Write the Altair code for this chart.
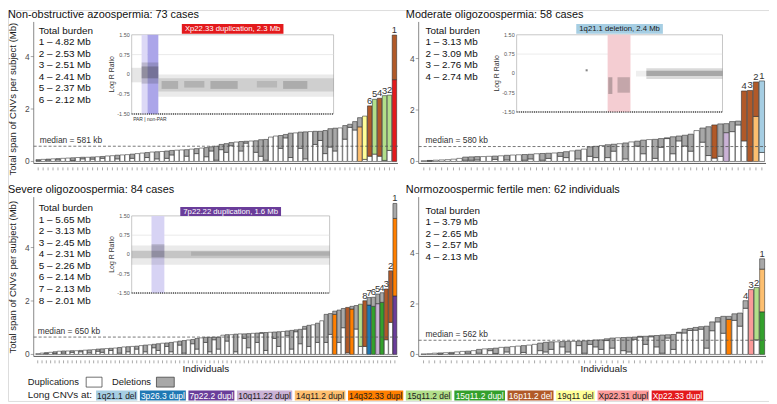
import altair as alt
import pandas as pd

FONT = "Liberation Sans"
W, H = 769, 395

# ---------------- categories / colours ----------------
CNV_TYPES = ["1q21.1 del", "3p26.3 dupl", "7p22.2 dupl", "10q11.22 dupl", "14q11.2 dupl",
             "14q32.33 dupl", "15q11.2 del", "15q11.2 dupl", "16p11.2 del", "19q11 del",
             "Xp22.31 dupl", "Xp22.33 dupl"]
CNV_COLORS = ["#a6cee3", "#1f78b4", "#6a3d9a", "#cab2d6", "#fdbf6f", "#ff7f00",
              "#b2df8a", "#33a02c", "#b15928", "#ffff99", "#fb9a99", "#e31a1c"]
CNV_LIGHT_TEXT = ["3p26.3 dupl", "7p22.2 dupl", "15q11.2 dupl", "16p11.2 del", "Xp22.33 dupl"]
DUP_FILL = "#ffffff"
DEL_FILL = "#a8a8a8"

# ---------------- Non-obstructive azoospermia (73) ----------------
noa_total = [0.07, 0.08, 0.09, 0.10, 0.11, 0.12, 0.13, 0.14, 0.15, 0.16,
             0.16, 0.17, 0.18, 0.19, 0.21, 0.22, 0.24, 0.25, 0.26, 0.28,
             0.30, 0.32, 0.34, 0.36, 0.37, 0.38, 0.40, 0.42, 0.43, 0.44,
             0.45, 0.47, 0.49, 0.51, 0.53, 0.56, 0.58, 0.65, 0.68, 0.72,
             0.74, 0.76, 0.77, 0.78, 0.79, 0.83, 0.84, 0.93, 0.97, 0.99,
             1.03, 1.08, 1.09, 1.12, 1.13, 1.14, 1.15, 1.15, 1.18, 1.25,
             1.27, 1.28, 1.37, 1.42, 1.52, 1.67, 1.73, 2.12, 2.37, 2.41,
             2.51, 2.53, 4.82]
noa_dup = [0.03, 0.08, 0.05, 0.10, 0.06, 0.12, 0.13, 0.04, 0.15, 0.10,
           0.16, 0.09, 0.18, 0.12, 0.21, 0.22, 0.10, 0.25, 0.26, 0.12,
           0.30, 0.32, 0.15, 0.36, 0.10, 0.38, 0.12, 0.25, 0.43, 0.44,
           0.20, 0.47, 0.30, 0.51, 0.18, 0.40, 0.05, 0.45, 0.35, 0.60,
           0.74, 0.40, 0.70, 0.78, 0.35, 0.20, 0.05, 0.93, 0.97, 0.50,
           0.90, 0.15, 1.09, 0.50, 0.10, 1.14, 0.65, 0.80, 0.30, 0.55,
           0.40, 1.28, 0.85, 1.30, 1.20, 0.00, 0.08, 0.20, 0.28, 0.20,
           0.04, 0.42, 0.00]
noa_cnv_bar = [66, 67, 68, 69, 70, 71, 72, 73, 73]
noa_cnv_type = ["14q11.2 dupl", "19q11 del", "16p11.2 del", "15q11.2 del", "16p11.2 del",
                "15q11.2 del", "15q11.2 del", "Xp22.33 dupl", "16p11.2 del"]
noa_cnv_mb = [1.32, 1.65, 1.92, 2.09, 2.21, 2.47, 2.11, 3.12, 1.70]
noa_burden = ["4.82", "2.53", "2.51", "2.41", "2.37", "2.12"]

# ---------------- Moderate oligozoospermia (58) ----------------
mo_total = [0.03, 0.04, 0.05, 0.06, 0.07, 0.09, 0.12, 0.17, 0.18, 0.19,
            0.19, 0.20, 0.21, 0.22, 0.24, 0.25, 0.26, 0.27, 0.28, 0.30,
            0.31, 0.32, 0.33, 0.35, 0.38, 0.41, 0.44, 0.48, 0.57, 0.59,
            0.62, 0.65, 0.67, 0.69, 0.72, 0.76, 0.79, 0.83, 0.85, 0.86,
            0.89, 0.92, 0.96, 0.99, 1.02, 1.06, 1.20, 1.30, 1.35, 1.42,
            1.46, 1.47, 1.55, 1.57, 2.74, 2.76, 3.09, 3.13]
mo_dup = [0.03, 0.02, 0.05, 0.06, 0.07, 0.09, 0.12, 0.05, 0.05, 0.06,
          0.19, 0.20, 0.08, 0.22, 0.06, 0.25, 0.26, 0.05, 0.10, 0.30,
          0.05, 0.12, 0.33, 0.20, 0.15, 0.41, 0.10, 0.48, 0.20, 0.15,
          0.62, 0.15, 0.40, 0.69, 0.10, 0.76, 0.60, 0.30, 0.85, 0.12,
          0.55, 0.89, 0.30, 0.80, 0.60, 0.40, 1.20, 0.75, 0.23, 0.13,
          0.20, 0.00, 1.16, 1.42, 0.80, 0.00, 0.00, 0.35]
mo_cnv_bar = [50, 52, 55, 56, 57, 57, 58]
mo_cnv_type = ["16p11.2 del", "10q11.22 dupl", "16p11.2 del", "16p11.2 del",
               "14q11.2 dupl", "16p11.2 del", "1q21.1 del"]
mo_cnv_mb = [1.29, 1.12, 1.94, 2.76, 1.75, 1.34, 2.78]
mo_burden = ["3.13", "3.09", "2.76", "2.74"]

# ---------------- Severe oligozoospermia (84) ----------------
so_total = [0.03, 0.05, 0.07, 0.08, 0.10, 0.12, 0.13, 0.13, 0.14, 0.14,
            0.15, 0.16, 0.17, 0.18, 0.20, 0.21, 0.22, 0.23, 0.24, 0.26,
            0.28, 0.29, 0.30, 0.31, 0.33, 0.35, 0.36, 0.38, 0.40, 0.42,
            0.43, 0.45, 0.47, 0.50, 0.52, 0.54, 0.56, 0.60, 0.62, 0.64,
            0.64, 0.65, 0.65, 0.72, 0.74, 0.74, 0.76, 0.77, 0.77, 0.78,
            0.79, 0.80, 0.81, 0.82, 0.83, 0.84, 0.85, 0.86, 0.88, 0.90,
            0.92, 0.94, 1.05, 1.09, 1.11, 1.17, 1.26, 1.50, 1.53, 1.62,
            1.66, 1.72, 1.76, 1.80, 1.83, 1.88, 2.01, 2.13, 2.14, 2.26,
            2.31, 2.45, 3.13, 5.65]
so_dup = [0.03, 0.05, 0.03, 0.08, 0.04, 0.12, 0.05, 0.13, 0.08, 0.14,
          0.10, 0.16, 0.06, 0.18, 0.12, 0.08, 0.22, 0.15, 0.24, 0.05,
          0.28, 0.10, 0.30, 0.20, 0.33, 0.10, 0.36, 0.25, 0.15, 0.42,
          0.30, 0.10, 0.47, 0.35, 0.05, 0.54, 0.40, 0.20, 0.62, 0.45,
          0.10, 0.55, 0.20, 0.72, 0.50, 0.74, 0.10, 0.77, 0.60, 0.25,
          0.79, 0.45, 0.80, 0.15, 0.83, 0.60, 0.30, 0.86, 0.70, 0.20,
          0.85, 0.40, 0.95, 0.30, 1.11, 0.45, 1.26, 0.45, 0.75, 0.00,
          0.45, 1.00, 0.06, 0.00, 0.95, 0.30, 0.30, 0.00, 0.00, 0.00,
          0.00, 0.55, 1.20, 0.00]
so_cnv_bar = [70, 73, 74, 76, 77, 78, 79, 80, 81, 82, 83, 84, 84]
so_cnv_type = ["14q32.33 dupl", "16p11.2 del", "14q32.33 dupl", "15q11.2 del", "16p11.2 del",
               "3p26.3 dupl", "15q11.2 dupl", "10q11.22 dupl", "15q11.2 dupl", "16p11.2 del",
               "16p11.2 del", "7p22.2 dupl", "14q32.33 dupl"]
so_cnv_mb = [1.50, 1.70, 1.70, 1.58, 1.71, 1.85, 1.80, 1.90, 1.95, 1.90, 1.93, 2.19, 2.90]
so_burden = ["5.65", "3.13", "2.45", "2.31", "2.26", "2.14", "2.13", "2.01"]

# ---------------- Normozoospermic fertile men (62) ----------------
nf_total = [0.02, 0.03, 0.05, 0.06, 0.07, 0.08, 0.10, 0.12, 0.13, 0.15,
            0.20, 0.22, 0.23, 0.25, 0.28, 0.29, 0.31, 0.33, 0.35, 0.37,
            0.40, 0.45, 0.48, 0.50, 0.50, 0.51, 0.52, 0.52, 0.53, 0.54,
            0.55, 0.575, 0.58, 0.62, 0.65, 0.66, 0.67, 0.68, 0.69, 0.72,
            0.72, 0.74, 0.75, 0.77, 0.78, 0.79, 0.88, 1.00, 1.03, 1.07,
            1.10, 1.12, 1.29, 1.46, 1.51, 1.51, 1.61, 1.64, 2.13, 2.57,
            2.65, 3.79]
nf_dup = [0.02, 0.03, 0.05, 0.02, 0.07, 0.03, 0.10, 0.12, 0.05, 0.15,
          0.05, 0.22, 0.15, 0.04, 0.28, 0.10, 0.31, 0.33, 0.08, 0.37,
          0.40, 0.15, 0.10, 0.20, 0.50, 0.30, 0.10, 0.52, 0.35, 0.05,
          0.40, 0.30, 0.20, 0.55, 0.25, 0.66, 0.15, 0.10, 0.60, 0.69,
          0.40, 0.70, 0.30, 0.05, 0.65, 0.20, 0.85, 0.85, 0.95, 0.96,
          1.00, 0.25, 0.94, 1.29, 0.84, 0.00, 1.35, 1.12, 1.83, 0.00,
          0.58, 0.00]
nf_cnv_bar = [56, 60, 61, 62, 62]
nf_cnv_type = ["14q32.33 dupl", "Xp22.31 dupl", "15q11.2 del", "15q11.2 dupl", "14q11.2 dupl"]
nf_cnv_mb = [1.39, 2.57, 2.07, 1.69, 1.69]
nf_burden = ["3.79", "2.65", "2.57", "2.13"]

# ---------------- inset (Log R Ratio) summaries ----------------
LRR_TICKS = [1.5, 0.75, 0.0, -0.75, -1.5]
LRR_LABELS = ["1.50", "0.75", "0", "-0.75", "-1.50"]

noa_band_x0 = [4.9, 7.8]
noa_band_x1 = [7.8, 13.2]
noa_band_col = ["#dcd8f6", "#aba5e9"]
noa_cloud_x0 = [0.0, 4.9, 4.9, 13.2, 13.2, 14.8, 26.0, 39.0, 62.0, 75.0]
noa_cloud_x1 = [4.9, 13.2, 13.2, 100.0, 100.0, 23.0, 36.0, 52.5, 72.0, 87.0]
noa_cloud_lo = [-0.30, -0.35, -0.15, -0.85, -0.65, -0.55, -0.50, -0.55, -0.50, -0.55]
noa_cloud_hi = [0.25, 0.45, 0.30, 0.00, -0.15, -0.25, -0.25, -0.25, -0.25, -0.25]
noa_cloud_op = [0.12, 0.20, 0.30, 0.10, 0.15, 0.20, 0.18, 0.22, 0.15, 0.22]

mo_band_x0 = [44.2]
mo_band_x1 = [55.3]
mo_band_col = ["#f4cdd2"]
mo_cloud_x0 = [33.5, 44.5, 49.0, 58.0, 63.0, 63.0]
mo_cloud_x1 = [34.5, 46.5, 55.0, 63.0, 100.0, 100.0]
mo_cloud_lo = [0.08, -0.80, -0.75, -0.12, -0.22, -0.10]
mo_cloud_hi = [0.16, -0.15, -0.15, 0.10, 0.20, 0.10]
mo_cloud_op = [0.60, 0.30, 0.25, 0.08, 0.18, 0.30]

so_band_x0 = [10.0]
so_band_x1 = [16.5]
so_band_col = ["#d7d3f4"]
so_cloud_x0 = [0.0, 0.0, 10.0, 30.0]
so_cloud_x1 = [100.0, 100.0, 16.5, 100.0]
so_cloud_lo = [-0.40, -0.15, -0.10, -0.05]
so_cloud_hi = [0.35, 0.15, 0.40, 0.12]
so_cloud_op = [0.10, 0.20, 0.20, 0.15]

# ---------------- helpers ----------------
ONE = pd.DataFrame({"k": [0]})
AW = {".": 278, " ": 278, ",": 278, "d": 556, "e": 556, "l": 222, "u": 556, "p": 556,
      "q": 556, "X": 667, "i": 222, "c": 500, "a": 556, "t": 278, "o": 556, "n": 556,
      "M": 833, "b": 556}


def tw(s, size):
    return sum(AW.get(ch, 556) for ch in s) / 1000.0 * size


def vtext(txt, x, y, size, color="#1a1a1a", align="left", angle=None, baseline="middle"):
    kw = dict(text=txt, fontSize=size, font=FONT, color=color, align=align, baseline=baseline)
    if angle is not None:
        kw["angle"] = angle
    return alt.Chart(ONE).mark_text(**kw).encode(x=alt.value(x), y=alt.value(y))


def vrect(x0, x1, y0, y1, fill, stroke=None, sw=0.6):
    kw = dict(fill=fill)
    if stroke:
        kw["stroke"] = stroke
        kw["strokeWidth"] = sw
    return alt.Chart(ONE).mark_rect(**kw).encode(
        x=alt.value(x0), x2=alt.value(x1), y=alt.value(y0), y2=alt.value(y1))


COLOR_OF = dict(zip(CNV_TYPES, CNV_COLORS))


def bar_rows(total, dup, cb, ct, cm):
    rows = []
    for i, (t, d) in enumerate(zip(total, dup), start=1):
        cd = [(ty, mb) for b, ty, mb in zip(cb, ct, cm) if b == i and ty.endswith("dupl")]
        cl = [(ty, mb) for b, ty, mb in zip(cb, ct, cm) if b == i and ty.endswith("del")]
        gray = t - d - sum(m for _, m in cd) - sum(m for _, m in cl)
        segs = [(COLOR_OF[ty], mb) for ty, mb in cd] + [(DUP_FILL, d)] + \
               [(COLOR_OF[ty], mb) for ty, mb in cl] + [(DEL_FILL, gray)]
        y = 0.0
        for f, h in segs:
            if h > 0.004:
                rows.append(dict(idx=i, x0=i - 0.45, x1=i + 0.45, y0=y, y1=y + h, fill=f))
            y += max(h, 0.0)
    return pd.DataFrame(rows)


def inset_layers(s):
    xi = alt.Scale(domain=[0, 100], range=[s["fx0"], s["fx1"]], nice=False, zero=False)
    yi = alt.Scale(domain=[-1.5, 1.5], range=[s["fy1"], s["fy0"]], nice=False, zero=False)

    def XI(f):
        return alt.X(f, type="quantitative", scale=xi, axis=None)

    def YI(f):
        return alt.Y(f, type="quantitative", scale=yi, axis=None)

    out = []
    frame = pd.DataFrame({"x0": [0.0], "x1": [100.0], "y0": [-1.5], "y1": [1.5]})
    out.append(alt.Chart(frame).mark_rect(fill="white", stroke="#a0a0a0", strokeWidth=0.6).encode(
        x=XI("x0"), x2="x1", y=YI("y0"), y2="y1"))
    out.append(alt.Chart(pd.DataFrame({"v": [0.75]})).mark_rule(color="#dedede", strokeWidth=0.6).encode(
        y=YI("v"), x=alt.value(s["fx0"]), x2=alt.value(s["fx1"])))
    bands = pd.DataFrame({"x0": s["band_x0"], "x1": s["band_x1"], "c": s["band_col"]})
    out.append(alt.Chart(bands).mark_rect().encode(
        x=XI("x0"), x2="x1", y=alt.value(s["fy0"]), y2=alt.value(s["fy1"]),
        fill=alt.Fill("c:N", scale=None)))
    clouds = pd.DataFrame({"x0": s["cx0"], "x1": s["cx1"], "lo": s["clo"], "hi": s["chi"], "op": s["cop"]})
    out.append(alt.Chart(clouds).mark_rect(fill="#333333").encode(
        x=XI("x0"), x2="x1", y=YI("lo"), y2="hi", opacity=alt.Opacity("op:Q", scale=None)))
    out.append(alt.Chart(pd.DataFrame({"v": [-1.5]})).mark_rule(
        color="#222222", strokeWidth=1.6, strokeDash=[0.8, 1.4]).encode(
        y=YI("v"), x=alt.value(s["fx0"]), x2=alt.value(s["fx1"])))
    ticks = pd.DataFrame({"v": LRR_TICKS, "lab": LRR_LABELS})
    out.append(alt.Chart(ticks).mark_text(fontSize=5.5, font=FONT, color="#555555", align="right",
                                          baseline="middle", dx=-2).encode(
        x=alt.value(s["fx0"]), y=YI("v"), text="lab:N"))
    out.append(vtext("Log R Ratio", s["fx0"] - 20, (s["fy0"] + s["fy1"]) / 2, 7,
                     color="#333333", align="center", angle=270))
    cx = (s["fx0"] + s["fx1"]) / 2
    bw = tw(s["title"], 7.8) + 6
    out.append(vrect(cx - bw / 2, cx + bw / 2, s["by0"], s["by1"], s["tfill"]))
    out.append(vtext(s["title"], cx, (s["by0"] + s["by1"]) / 2 + 0.3, 7.8,
                     color=s["tcolor"], align="center"))
    if s.get("par"):
        out.append(alt.Chart(pd.DataFrame({"x": [9.0], "t": ["PAR | non-PAR"]})).mark_text(
            fontSize=5, font=FONT, color="#333333", align="center", baseline="middle").encode(
            x=XI("x"), y=alt.value(s["fy1"] + 4.8), text="t:N"))
    return out


def panel_layers(p):
    n = len(p["total"])
    L, R, T, B, Z, k = p["L"], p["R"], p["T"], p["B"], p["zero"], p["k"]
    xsc = alt.Scale(domain=[0.3, n + 0.7], range=[L + 1, R], nice=False, zero=False)
    ysc = alt.Scale(domain=[-(B - Z) / k, (Z - T) / k], range=[B, T], nice=False, zero=False)

    def X(f):
        return alt.X(f, type="quantitative", scale=xsc, axis=None)

    def Y(f):
        return alt.Y(f, type="quantitative", scale=ysc, axis=None)

    out = []
    out.append(vtext(p["title"], p["tx"], p["ty"], 11, color="#111111"))
    out.append(alt.Chart(ONE).mark_rule(color="#6a6a6a", strokeWidth=0.8).encode(
        x=alt.value(L), y=alt.value(T), y2=alt.value(B)))
    out.append(alt.Chart(ONE).mark_rule(color="#5a5a5a", strokeWidth=1.0).encode(
        x=alt.value(L), x2=alt.value(R), y=alt.value(B)))
    idx = pd.DataFrame({"idx": list(range(1, n + 1))})
    out.append(alt.Chart(idx).mark_rule(color="#707070", strokeWidth=0.6).encode(
        x=X("idx"), y=alt.value(B + 4), y2=alt.value(B + 7)))
    yt = pd.DataFrame({"v": [0, 2, 4], "lab": ["0", "2", "4"]})
    out.append(alt.Chart(yt).mark_rule(color="#6a6a6a", strokeWidth=0.6).encode(
        y=Y("v"), x=alt.value(L - 3), x2=alt.value(L)))
    out.append(alt.Chart(yt).mark_text(fontSize=8.5, font=FONT, color="#4d4d4d", align="right",
                                       baseline="middle").encode(
        y=Y("v"), x=alt.value(L - 4), text="lab:N"))
    if p.get("ytitle"):
        out.append(vtext("Total span of CNVs per subject (Mb)", 5, p["ytitle"], 9.6,
                         align="center", angle=270))
    if p.get("xtitle"):
        out.append(vtext("Individuals", p["xtitle"], B + 13, 10, align="center"))
    bars = bar_rows(p["total"], p["dup"], p["cb"], p["ct"], p["cm"])
    out.append(alt.Chart(bars).mark_rect(stroke="#262626", strokeWidth=0.55).encode(
        x=X("x0"), x2="x1", y=Y("y0"), y2="y1", fill=alt.Fill("fill:N", scale=None)))
    med = pd.DataFrame({"m": [p["median"]], "t": [p["median_label"]]})
    out.append(alt.Chart(med).mark_rule(color="#555555", strokeWidth=0.8, strokeDash=[3, 2]).encode(
        y=Y("m"), x=alt.value(L), x2=alt.value(R)))
    out.append(alt.Chart(med).mark_text(fontSize=8.5, font=FONT, color="#333333", align="left",
                                        baseline="bottom", dy=-1.5).encode(
        y=Y("m"), x=alt.value(p["mx"]), text="t:N"))
    nb = len(p["burden"])
    ranks = pd.DataFrame({"idx": [n - r for r in range(nb)],
                          "tot": [p["total"][n - 1 - r] for r in range(nb)],
                          "lab": [str(r + 1) for r in range(nb)]})
    out.append(alt.Chart(ranks).mark_text(fontSize=9.5, font=FONT, color="#333333", align="center",
                                          baseline="alphabetic", dy=-2).encode(
        x=X("idx"), y=Y("tot"), text="lab:N"))
    lines = ["Total burden"] + ["%d \u2013 %s Mb" % (i + 1, b) for i, b in enumerate(p["burden"])]
    bl = pd.DataFrame({"ln": list(range(len(lines))), "t": lines})
    lsc = alt.Scale(domain=[0, 1], range=[p["by"], p["by"] + p["blh"]], nice=False, zero=False)
    out.append(alt.Chart(bl).mark_text(fontSize=10, font=FONT, color="#111111", align="left",
                                       baseline="middle").encode(
        y=alt.Y("ln", type="quantitative", scale=lsc, axis=None), x=alt.value(p["bx"]), text="t:N"))
    if p.get("inset"):
        out += inset_layers(p["inset"])
    return out


panels = [
    dict(title="Non-obstructive azoospermia: 73 cases", tx=0, ty=5.5,
         total=noa_total, dup=noa_dup, cb=noa_cnv_bar, ct=noa_cnv_type, cm=noa_cnv_mb,
         burden=noa_burden, median=0.581, median_label="median = 581 kb",
         L=26, R=394, T=12, B=155, zero=153, k=26.5, ytitle=90,
         bx=31, by=21, blh=11.6, mx=32,
         inset=dict(fx0=125, fx1=329, fy0=25, fy1=105, by0=14, by1=24,
                    title="Xp22.33 duplication, 2.3 Mb", tfill="#e31a1c", tcolor="#ffffff",
                    band_x0=noa_band_x0, band_x1=noa_band_x1, band_col=noa_band_col,
                    cx0=noa_cloud_x0, cx1=noa_cloud_x1, clo=noa_cloud_lo, chi=noa_cloud_hi,
                    cop=noa_cloud_op, par=True)),
    dict(title="Moderate oligozoospermia: 58 cases", tx=402, ty=5.5,
         total=mo_total, dup=mo_dup, cb=mo_cnv_bar, ct=mo_cnv_type, cm=mo_cnv_mb,
         burden=mo_burden, median=0.580, median_label="median = 580 kb",
         L=415, R=766, T=12, B=155, zero=153, k=26.0,
         bx=422, by=21, blh=11.6, mx=422,
         inset=dict(fx0=514, fx1=722, fy0=25, fy1=103, by0=14, by1=24,
                    title="1q21.1 deletion, 2.4 Mb", tfill="#a6cee3", tcolor="#1a1a1a",
                    band_x0=mo_band_x0, band_x1=mo_band_x1, band_col=mo_band_col,
                    cx0=mo_cloud_x0, cx1=mo_cloud_x1, clo=mo_cloud_lo, chi=mo_cloud_hi,
                    cop=mo_cloud_op)),
    dict(title="Severe oligozoospermia: 84 cases", tx=0, ty=182,
         total=so_total, dup=so_dup, cb=so_cnv_bar, ct=so_cnv_type, cm=so_cnv_mb,
         burden=so_burden, median=0.650, median_label="median = 650 kb",
         L=26, R=394, T=189, B=350, zero=348, k=27.0, ytitle=270, xtitle=200,
         bx=31, by=200, blh=11.7, mx=30,
         inset=dict(fx0=125, fx1=325, fy0=208, fy1=286, by0=199, by1=208,
                    title="7p22.22 duplication, 1.6 Mb", tfill="#6a3d9a", tcolor="#ffffff",
                    band_x0=so_band_x0, band_x1=so_band_x1, band_col=so_band_col,
                    cx0=so_cloud_x0, cx1=so_cloud_x1, clo=so_cloud_lo, chi=so_cloud_hi,
                    cop=so_cloud_op)),
    dict(title="Normozoospermic fertile men: 62 individuals", tx=402, ty=182,
         total=nf_total, dup=nf_dup, cb=nf_cnv_bar, ct=nf_cnv_type, cm=nf_cnv_mb,
         burden=nf_burden, median=0.562, median_label="median = 562 kb",
         L=415, R=766, T=189, B=350, zero=348, k=25.5, xtitle=602,
         bx=422, by=203, blh=11.6, mx=422),
]

layers = []
for p in panels:
    layers += panel_layers(p)

# ---------------- legend ----------------
layers.append(vtext("Duplications", 20, 376, 9.5))
layers.append(vrect(79, 95, 371, 381, DUP_FILL, stroke="#333333", sw=0.7))
layers.append(vtext("Deletions", 105, 376, 9.5))
layers.append(vrect(150, 168, 371, 381, DEL_FILL, stroke="#333333", sw=0.7))
layers.append(vtext("Long CNVs at:", 20, 389.5, 10))

chip_rows = []
cur = 89.0
for lab, col in zip(CNV_TYPES, CNV_COLORS):
    w = tw(lab, 8.5) + 2.0
    chip_rows.append(dict(lab=lab, fill=col,
                          tc="#ffffff" if lab in CNV_LIGHT_TEXT else "#1a1a1a",
                          x0=cur, x1=cur + w, xc=cur + w / 2))
    cur += w + 2.6
chips = pd.DataFrame(chip_rows)
pxs = alt.Scale(domain=[0, W], range=[0, W], nice=False, zero=False)
layers.append(alt.Chart(chips).mark_rect().encode(
    x=alt.X("x0", type="quantitative", scale=pxs, axis=None), x2="x1",
    y=alt.value(384.5), y2=alt.value(394.5), fill=alt.Fill("fill:N", scale=None)))
layers.append(alt.Chart(chips).mark_text(fontSize=8.5, font=FONT, align="center",
                                         baseline="middle").encode(
    x=alt.X("xc", type="quantitative", scale=pxs, axis=None), y=alt.value(389.8),
    text="lab:N", color=alt.Color("tc:N", scale=None)))

chart = alt.layer(*layers).resolve_scale(x="independent", y="independent").properties(
    width=W, height=H, padding=0, autosize=alt.AutoSizeParams(type="none")
).configure_view(stroke=None).configure(font=FONT, background="white")

chart.save("out.html", embed_options={"renderer": "svg", "actions": False})
